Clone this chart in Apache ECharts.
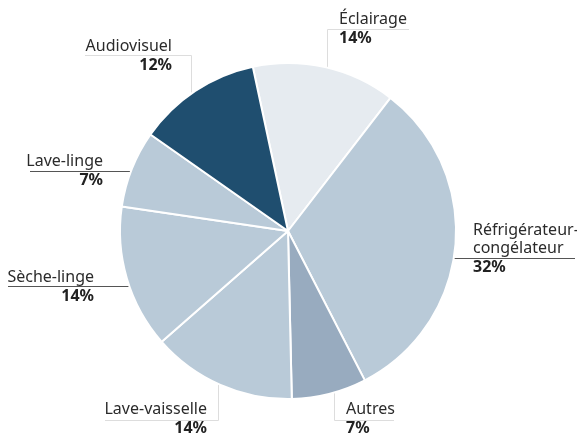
<!DOCTYPE html>
<html><head><meta charset="utf-8">
<script src="https://cdn.jsdelivr.net/npm/echarts@6/dist/echarts.min.js"></script>
<style>html,body{margin:0;padding:0;background:#fff}#c{width:577px;height:438px}</style>
</head><body><div id="c"></div>
<script>
// ---- data ----
const categories = ['Éclairage', 'Réfrigérateur-\ncongélateur', 'Autres', 'Lave-vaisselle', 'Sèche-linge', 'Lave-linge', 'Audiovisuel'];
const values = [13.8, 32.0, 7.2, 13.9, 13.8, 7.4, 11.9];
const pctLabels = ['14%', '32%', '7%', '14%', '14%', '7%', '12%'];

// ---- styles / layout ----
const colors = ['#e6ebf0', '#b9cad8', '#98abbf', '#b9cad8', '#b9cad8', '#b9cad8', '#1f4e6f'];
const lineColors = ['#dddddd', '#555555', '#dddddd', '#dddddd', '#555555', '#555555', '#dddddd'];
const CX = 288, CY = 231, R = 168;
function edgeY(x, sign) { return CY + sign * Math.sqrt(R * R - (x - CX) * (x - CX)); }
function edgeX(y, sign) { return CX + sign * Math.sqrt(R * R - (y - CY) * (y - CY)); }
// label placement: text anchor x, top y, alignment, leader line shape
const layouts = [
  { tx: 339, top: 10.5, align: 'left', pts: () => { const x = 327.5, y = 29.5; return [[x, edgeY(x, -1)], [x, y], [409, y]]; } },
  { tx: 473, top: 221.5, align: 'left', pts: () => { const y = 258.5, x = edgeX(y, 1) - 1; return [[x, y], [x + 1, y], [575, y]]; } },
  { tx: 346, top: 400.5, align: 'left', pts: () => { const x = 334.5, y = 420.5; return [[x, edgeY(x, 1)], [x, y], [394, y]]; } },
  { tx: 207, top: 400.5, align: 'right', pts: () => { const x = 218.5, y = 420.5; return [[x, edgeY(x, 1)], [x, y], [105, y]]; } },
  { tx: 94, top: 268, align: 'right', pts: () => { const y = 286.5, x = edgeX(y, -1) + 1; return [[x, y], [x - 1, y], [8, y]]; } },
  { tx: 103, top: 152.5, align: 'right', pts: () => { const y = 171.5, x = edgeX(y, -1) + 1; return [[x, y], [x - 1, y], [30, y]]; } },
  { tx: 172, top: 37.5, align: 'right', pts: () => { const x = 191.5, y = 55.5; return [[x, edgeY(x, -1)], [x, y], [85, y]]; } }
];

const FONT = '"Noto Sans", sans-serif';
const data = categories.map((name, i) => ({
  name: name,
  value: values[i],
  itemStyle: { color: colors[i] },
  labelLine: { lineStyle: { color: lineColors[i], width: 1 } }
}));

const chart = echarts.init(document.getElementById('c'), null, { renderer: 'canvas' });
chart.setOption({
  animation: false,
  series: [{
    type: 'pie',
    center: [CX, CY],
    radius: [0, R],
    startAngle: 102.1,
    clockwise: true,
    avoidLabelOverlap: false,
    emphasis: { disabled: true },
    itemStyle: { borderColor: '#ffffff', borderWidth: 2 },
    label: {
      show: true,
      position: 'outside',
      formatter: p => p.name.split('\n').map(s => '{n|' + s + '}').join('\n') + '\n{p|' + pctLabels[p.dataIndex] + '}',
      rich: {
        n: { fontFamily: FONT, fontSize: 16, color: '#2b2b2b', lineHeight: 18 },
        p: { fontFamily: FONT, fontSize: 16, fontWeight: 'bold', color: '#222222', lineHeight: 20 }
      }
    },
    labelLine: { show: true, smooth: false, length: 10, length2: 10 },
    labelLayout: params => {
      const L = layouts[params.dataIndex];
      return { x: L.tx, y: L.top, align: L.align, verticalAlign: 'top', labelLinePoints: L.pts() };
    },
    data: data
  }]
});
</script></body></html>
